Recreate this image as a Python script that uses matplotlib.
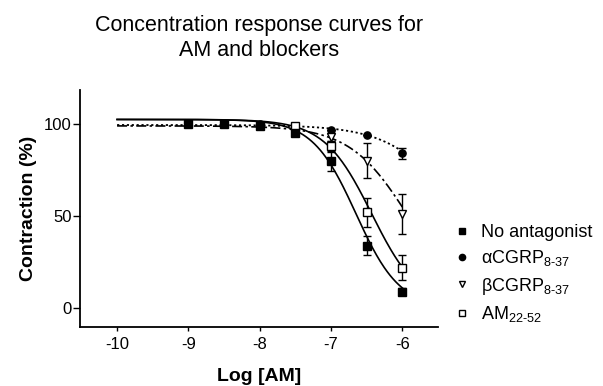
import matplotlib
matplotlib.use('Agg')
import matplotlib.pyplot as plt
import numpy as np
from matplotlib.lines import Line2D

plt.rcParams['font.family'] = ['Liberation Sans', 'DejaVu Sans']
plt.rcParams['mathtext.fontset'] = 'custom'
plt.rcParams['mathtext.rm'] = 'Liberation Sans'
plt.rcParams['mathtext.it'] = 'Liberation Sans:italic'
plt.rcParams['axes.unicode_minus'] = False

# data (log molar AM vs % contraction, mean +/- error)
x_none = [-9, -8.5, -8, -7.5, -7, -6.5, -6]
y_none = [100, 100, 99, 95, 80, 34, 9]
e_none = [0, 0, 0, 1, 5.5, 5, 2]

x_alpha = [-8, -7.5, -7, -6.5, -6]
y_alpha = [100, 98, 97, 94, 84]
e_alpha = [0, 0, 0, 0, 3]

x_beta = [-7.5, -7, -6.5, -6]
y_beta = [98, 93, 80, 51]
e_beta = [0, 2, 9.5, 11]

x_am = [-7.5, -7, -6.5, -6]
y_am = [99, 88, 52, 22]
e_am = [0, 3, 8, 7]

# fitted sigmoid parameters (top, bottom, logIC50, hill)
fit_none = (102.5, 0, -6.65, 1.42)
fit_alpha = (99.5, 0, -5.16, 0.92)
fit_beta = (99.0, 0, -5.91, 1.05)
fit_am = (102.5, 0, -6.43, 1.3)

labels = ['No antagonist',
          r'αCGRP$_{\rm 8\text{-}37}$',
          r'βCGRP$_{\rm 8\text{-}37}$',
          r'AM$_{\rm 22\text{-}52}$']


def sigmoid(x, p):
    top, bottom, c, h = p
    return bottom + (top - bottom) / (1 + 10 ** ((x - c) * h))


def main():
    fig = plt.figure(figsize=(6.03, 3.86), dpi=100)
    ax = fig.add_axes([0.1327, 0.1528, 0.5937, 0.614])

    xs = np.linspace(-10, -6, 300)
    ax.plot(xs, sigmoid(xs, fit_none), 'k-', lw=1.2)
    ax.plot(xs, sigmoid(xs, fit_am), 'k-', lw=1.2)
    ax.plot(xs, sigmoid(xs, fit_beta), 'k', ls=(0, (6, 2, 1.5, 2)), lw=1.2)
    ax.plot(xs, sigmoid(xs, fit_alpha), 'k', ls=(0, (1.2, 1.5)), lw=1.3)

    kw = dict(ecolor='k', elinewidth=1.0, capsize=3, capthick=1.0, ls='none', ms=5.2, mew=1.0)
    ax.errorbar(x_alpha, y_alpha, yerr=e_alpha, fmt='o', mfc='k', mec='k', **kw)
    ax.errorbar(x_beta, y_beta, yerr=e_beta, fmt='v', mfc='white', mec='k', **kw)
    ax.errorbar(x_am, y_am, yerr=e_am, fmt='s', mfc='white', mec='k', **kw)
    ax.errorbar(x_none, y_none, yerr=e_none, fmt='s', mfc='k', mec='k', **kw)

    ax.set_xlim(-10.52, -5.5)
    ax.set_ylim(-10.3, 118.5)
    ax.set_xticks([-10, -9, -8, -7, -6])
    ax.set_yticks([0, 50, 100])
    for s in ['top', 'right']:
        ax.spines[s].set_visible(False)
    for s in ['left', 'bottom']:
        ax.spines[s].set_linewidth(1.3)
    ax.tick_params(axis='y', length=5, width=1, labelsize=12, pad=1)
    ax.tick_params(axis='x', length=3, width=1, labelsize=12, pad=4)

    ax.set_xlabel('Log [AM]', fontsize=14, fontweight='bold', labelpad=12)
    ax.set_ylabel('Contraction (%)', fontsize=14, fontweight='bold', labelpad=5)
    fig.text(0.43, 1 - 38 / 386, 'Concentration response curves for\nAM and blockers',
             fontsize=15.5, ha='center', va='center', linespacing=1.3)

    handles = [
        Line2D([], [], ls='none', marker='s', mfc='k', mec='k', ms=4.5),
        Line2D([], [], ls='none', marker='o', mfc='k', mec='k', ms=4.5),
        Line2D([], [], ls='none', marker='v', mfc='white', mec='k', ms=4.5),
        Line2D([], [], ls='none', marker='s', mfc='white', mec='k', ms=4.5),
    ]
    fig.legend(handles, labels, loc='center left', bbox_to_anchor=(0.74, 0.29),
               frameon=False, fontsize=13, handlelength=1.0, handletextpad=0.55,
               labelspacing=0.4, borderaxespad=0)

    fig.savefig('out.png', dpi=100)


if __name__ == '__main__':
    main()
